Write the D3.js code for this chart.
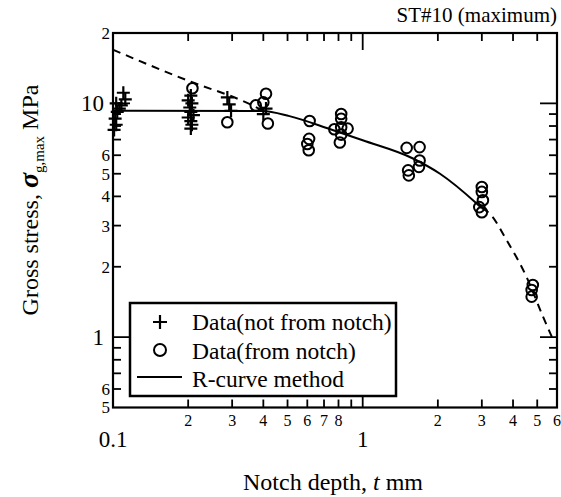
<!DOCTYPE html>
<html><head><meta charset="utf-8">
<script src="https://cdn.jsdelivr.net/npm/d3@7"></script>
<style>body{margin:0;background:#fff;} text{font-family:'Liberation Serif','DejaVu Serif',serif;}</style>
</head><body>
<svg id="c" width="561" height="497" font-family="Liberation Serif, DejaVu Serif, serif"></svg>
<script>
// ---- data ----
const plusT = [0.110,0.112,0.108,0.103,0.104,0.102,0.103,0.101,0.106,
               0.205,0.200,0.207,0.203,0.205,0.210,0.200,0.205,0.207,0.205,
               0.287,0.292,0.297, 0.400,0.410];
const plusS = [11.1,10.4,9.8,10.0,9.2,8.6,8.1,7.7,9.5,
               10.8,10.3,10.0,9.6,9.2,8.9,8.7,8.4,8.1,7.8,
               10.6,9.9,9.3, 9.0,9.5];
const circT = [0.208,0.287,0.373,0.400,0.410,0.417,
               0.613,0.610,0.600,0.608,
               0.820,0.820,0.770,0.820,0.870,0.820,0.810,
               1.50,1.69,1.69,1.68,1.52,1.53,
               3.00,3.00,3.03,2.93,3.00,
               4.80,4.75,4.75];
const circS = [11.6,8.3,9.8,10.1,11.0,8.2,
               8.4,7.05,6.7,6.3,
               9.0,8.6,7.75,7.9,7.8,7.35,6.8,
               6.45,6.5,5.7,5.35,5.17,4.92,
               4.39,4.18,3.85,3.6,3.42,
               1.67,1.59,1.49];
const rcurveT = [0.1,0.397,0.509,0.737,1.0,1.59,2.04,2.86,3.0];
const rcurveS = [9.3,9.28,8.82,7.77,6.95,5.81,5.0,3.73,3.56];
const dashHiT = [0.1,0.2,0.341,0.40];
const dashHiS = [16.96,12.5,10.1,9.3];
const dashLoT = [3.0,3.24,3.77,4.53,5.28,5.85];
const dashLoS = [3.56,3.36,2.6,1.81,1.22,0.95];
const xMinor = [0.2,0.3,0.4,0.5,0.6,0.7,0.8,0.9,2,3,4,5];
const xMajor = [1];
const xMinorLabels = [[0.2,"2"],[0.3,"3"],[0.4,"4"],[0.5,"5"],[0.6,"6"],[0.7,"7"],[0.8,"8"],[2,"2"],[3,"3"],[4,"4"],[5,"5"],[6,"6"]];
const xMajorLabels = [[0.1,"0.1"],[1,"1"]];
const yMinor = [0.6,0.7,0.8,0.9,2,3,4,5,6,7,8,9];
const yMajor = [1,10];
const yMinorLabels = [[0.5,"5"],[0.6,"6"],[2,"2"],[3,"3"],[4,"4"],[5,"5"],[6,"6"],[20,"2"]];
const yMajorLabels = [[1,"1"],[10,"10"]];
const legendLabels = ["Data(not from notch)","Data(from notch)","R-curve method"];

// ---- drawing ----
const FF = "Liberation Serif, DejaVu Serif, serif";
const svg = d3.select("#c");
const L=113,R=557,T=33,B=407.5;
const x = d3.scaleLog().domain([0.1,6]).range([L,R]);
const y = d3.scaleLog().domain([0.5,20]).range([B,T]);
const ink="#000";

const line = d3.line().x(d=>x(d[0])).y(d=>y(d[1])).curve(d3.curveMonotoneX);
svg.append("path").datum(rcurveT.map((t,i)=>[t,rcurveS[i]])).attr("d",line)
  .attr("fill","none").attr("stroke",ink).attr("stroke-width",2);
svg.append("path").datum(dashHiT.map((t,i)=>[t,dashHiS[i]])).attr("d",line)
  .attr("fill","none").attr("stroke",ink).attr("stroke-width",2).attr("stroke-dasharray","8,6");
svg.append("path").datum(dashLoT.map((t,i)=>[t,dashLoS[i]])).attr("d",line)
  .attr("fill","none").attr("stroke",ink).attr("stroke-width",2).attr("stroke-dasharray","8,6");

// pluses
const ph=6.5;
svg.append("g").selectAll("path").data(plusT.map((t,i)=>[t,plusS[i]])).join("path")
  .attr("d",d=>{const cx=x(d[0]),cy=y(d[1]);return `M${cx-ph},${cy}H${cx+ph}M${cx},${cy-ph}V${cy+ph}`;})
  .attr("stroke",ink).attr("stroke-width",2.2).attr("fill","none");
// circles
svg.append("g").selectAll("circle").data(circT.map((t,i)=>[t,circS[i]])).join("circle")
  .attr("cx",d=>x(d[0])).attr("cy",d=>y(d[1])).attr("r",5.3)
  .attr("fill","none").attr("stroke",ink).attr("stroke-width",2);

// frame
svg.append("rect").attr("x",L).attr("y",T).attr("width",R-L).attr("height",B-T)
  .attr("fill","none").attr("stroke",ink).attr("stroke-width",2.2);

// ticks
const tk=svg.append("g").attr("stroke",ink).attr("stroke-width",1.8);
const addX=(vals,len)=>vals.forEach(v=>{
  tk.append("line").attr("x1",x(v)).attr("x2",x(v)).attr("y1",B).attr("y2",B-len);
  tk.append("line").attr("x1",x(v)).attr("x2",x(v)).attr("y1",T).attr("y2",T+len);});
const addY=(vals,len)=>vals.forEach(v=>{
  tk.append("line").attr("y1",y(v)).attr("y2",y(v)).attr("x1",L).attr("x2",L+len);
  tk.append("line").attr("y1",y(v)).attr("y2",y(v)).attr("x1",R).attr("x2",R-len);});
addX(xMinor,8); addX(xMajor,17); addY(yMinor,8); addY(yMajor,17);

// tick labels
const lab=svg.append("g").attr("fill",ink).attr("font-family",FF);
xMinorLabels.forEach(([v,s])=>lab.append("text").attr("x",x(v)).attr("y",426).attr("text-anchor","middle").attr("font-size",16).text(s));
xMajorLabels.forEach(([v,s])=>lab.append("text").attr("x",x(v)).attr("y",447).attr("text-anchor","middle").attr("font-size",23).text(s));
yMinorLabels.forEach(([v,s])=>lab.append("text").attr("x",L-3).attr("y",y(v)).attr("dy","0.35em").attr("text-anchor","end").attr("font-size",17).text(s));
yMajorLabels.forEach(([v,s])=>lab.append("text").attr("x",L-9).attr("y",y(v)).attr("dy","0.35em").attr("text-anchor","end").attr("font-size",23).text(s));

// titles
svg.append("text").attr("font-family",FF).attr("x",R).attr("y",22).attr("text-anchor","end").attr("font-size",21).text("ST#10 (maximum)");
const xt=svg.append("text").attr("font-family",FF).attr("x",333).attr("y",490).attr("text-anchor","middle").attr("font-size",24);
xt.append("tspan").text("Notch depth,  ");
xt.append("tspan").attr("font-style","italic").text("t");
xt.append("tspan").text("  mm");
const yt=svg.append("text").attr("font-family",FF).attr("transform","translate(38,200) rotate(-90)").attr("text-anchor","middle").attr("font-size",24);
yt.append("tspan").text("Gross stress,  ");
yt.append("tspan").attr("font-style","italic").attr("font-weight","bold").attr("font-size",28).text("σ");
yt.append("tspan").attr("font-size",15).attr("dy",6).text("g,max");
yt.append("tspan").attr("dy",-6).text(" MPa");

// legend
const lg=svg.append("g").attr("font-family",FF);
lg.append("rect").attr("x",130).attr("y",303).attr("width",266).attr("height",93)
  .attr("fill","#fff").attr("stroke",ink).attr("stroke-width",2.5);
lg.append("path").attr("d","M153,322H167M160,315V329").attr("stroke",ink).attr("stroke-width",2.2);
lg.append("circle").attr("cx",160).attr("cy",350).attr("r",6).attr("fill","none").attr("stroke",ink).attr("stroke-width",2);
lg.append("line").attr("x1",137).attr("x2",182).attr("y1",377).attr("y2",377).attr("stroke",ink).attr("stroke-width",2);
legendLabels.forEach((s,i)=>lg.append("text").attr("x",192).attr("y",330+i*28.5).attr("font-size",23.5).text(s));
</script>
</body></html>
